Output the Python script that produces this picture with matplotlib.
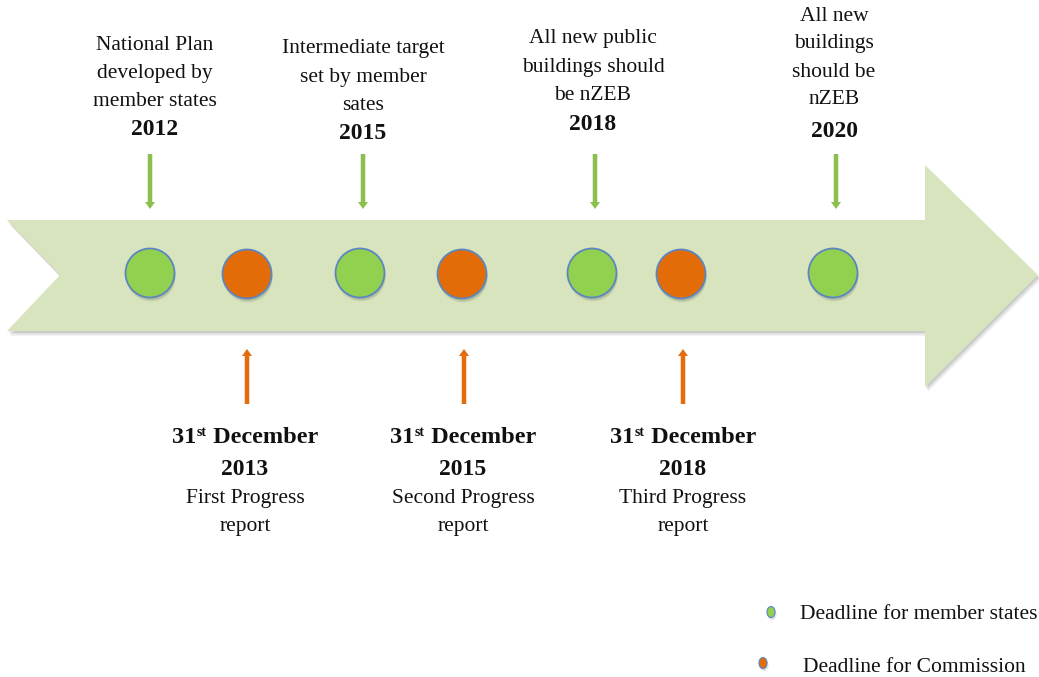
import matplotlib
matplotlib.use("Agg")
import matplotlib.pyplot as plt
from matplotlib.patches import Polygon, Ellipse, FancyArrow

plt.rcParams['font.family'] = ['Liberation Serif', 'DejaVu Serif']

# ---- data ----
member_years = ["2012", "2015", "2018", "2020"]
member_labels = [
    ["National Plan", "developed by", "member states"],
    ["Intermediate target", "set by member", "sates"],
    ["All new public", "buildings should", "be nZEB"],
    ["All new", "buildings", "should be", "nZEB"],
]
commission_years = ["2013", "2015", "2018"]
commission_labels = [
    ["First Progress", "report"],
    ["Second Progress", "report"],
    ["Third Progress", "report"],
]
commission_day = ["31", "st", " December"]
legend_labels = ["Deadline for member states", "Deadline for Commission"]

# ---- layout (pixel coordinates) ----
member_x = [150, 360, 592, 833]
member_arrow_x = [150, 363, 595, 836]
commission_x = [247, 462, 681]
commission_arrow_x = [247, 464, 683]
member_text_x = [155, 363, 593, 834]
member_baselines = [[50, 78, 106, 135], [53, 82, 110, 139], [43, 72, 100, 130], [21, 48, 77, 104, 137]]
commission_text_x = [245, 463, 683]
commission_baselines = [443, 475, 503, 531]

GREEN = "#92D050"
ORANGE = "#E36C09"
EDGE = "#5B86C0"
BODY = "#D7E4BD"
ARROW_G = "#8CBF4F"
ARROW_O = "#E46C0A"
TXT = "#111111"

W, H = 1039, 677
fig = plt.figure(figsize=(W / 100, H / 100), dpi=100)
ax = fig.add_axes([0, 0, 1, 1])
ax.set_xlim(0, W)
ax.set_ylim(H, 0)
ax.axis("off")

# big arrow with shadow
pts = [(7, 220), (925, 220), (925, 165), (1038, 275), (925, 387), (925, 331), (7, 331), (60, 275)]
for off, a in [(5, 0.05), (3.5, 0.07), (2, 0.09)]:
    ax.add_patch(Polygon([(x + off * 0.6, y + off) for x, y in pts], closed=True,
                         facecolor="black", alpha=a, edgecolor="none", zorder=1))
ax.add_patch(Polygon(pts, closed=True, facecolor=BODY, edgecolor="none", zorder=2))

R = 24.5
def circle(x, y, color):
    for off, a in [(4, 0.07), (2.5, 0.10)]:
        ax.add_patch(Ellipse((x + 1, y + off), 2 * R, 2 * R, facecolor="black",
                             alpha=a, edgecolor="none", zorder=3))
    ax.add_patch(Ellipse((x, y), 2 * R, 2 * R, facecolor=color, edgecolor=EDGE,
                         lw=1.3, zorder=4))

for x in member_x:
    circle(x, 273, GREEN)
for x in commission_x:
    circle(x, 274, ORANGE)

# small arrows
for x in member_arrow_x:
    ax.add_patch(FancyArrow(x, 154, 0, 55, width=4.5, head_width=10, head_length=7,
                            length_includes_head=True, color=ARROW_G, lw=0, zorder=3))
for x in commission_arrow_x:
    ax.add_patch(FancyArrow(x, 404, 0, -55, width=4.5, head_width=10, head_length=7,
                            length_includes_head=True, color=ARROW_O, lw=0, zorder=3))

FS = 15.5
FB = 17
FD = 17.5

# member texts
for lines, yr, xs, ys in zip(member_labels, member_years, member_text_x, member_baselines):
    for line, y in zip(lines, ys[:-1]):
        ax.text(xs, y, line, ha="center", va="baseline", fontsize=FS, color=TXT)
    ax.text(xs, ys[-1], yr, ha="center", va="baseline", fontsize=FB, fontweight="bold",
            color=TXT)

# commission texts
renderer = fig.canvas.get_renderer()
for lines, yr, xs in zip(commission_labels, commission_years, commission_text_x):
    b0 = commission_baselines[0]
    parts = [
        ax.text(0, b0, commission_day[0], ha="left", va="baseline", fontsize=FD,
                fontweight="bold", color=TXT),
        ax.text(0, b0 - 6.5, commission_day[1], ha="left", va="baseline", fontsize=10,
                fontweight="bold", color=TXT),
        ax.text(0, b0, commission_day[2], ha="left", va="baseline", fontsize=FD,
                fontweight="bold", color=TXT),
    ]
    widths = [p.get_window_extent(renderer).width for p in parts]
    total = sum(widths) + 1
    cur = xs - total / 2
    for p, w in zip(parts, widths):
        p.set_x(cur)
        cur += w + 0.5
    ax.text(xs, commission_baselines[1], yr, ha="center", va="baseline", fontsize=FB,
            fontweight="bold", color=TXT)
    ax.text(xs, commission_baselines[2], lines[0], ha="center", va="baseline", fontsize=FS,
            color=TXT)
    ax.text(xs, commission_baselines[3], lines[1], ha="center", va="baseline", fontsize=FS,
            color=TXT)

# legend
for (lx, ly), col, (tx, ty), lab in zip([(771, 612), (763, 663)], [GREEN, ORANGE],
                                        [(800, 619), (803, 672)], legend_labels):
    ax.add_patch(Ellipse((lx + 1, ly + 2), 9, 12, facecolor="black", alpha=0.12,
                         edgecolor="none", zorder=3))
    ax.add_patch(Ellipse((lx, ly), 8, 11, facecolor=col, edgecolor=EDGE, lw=0.8, zorder=4))
    ax.text(tx, ty, lab, ha="left", va="baseline", fontsize=FS, color=TXT)

fig.savefig("out.png", dpi=100, facecolor="white")
